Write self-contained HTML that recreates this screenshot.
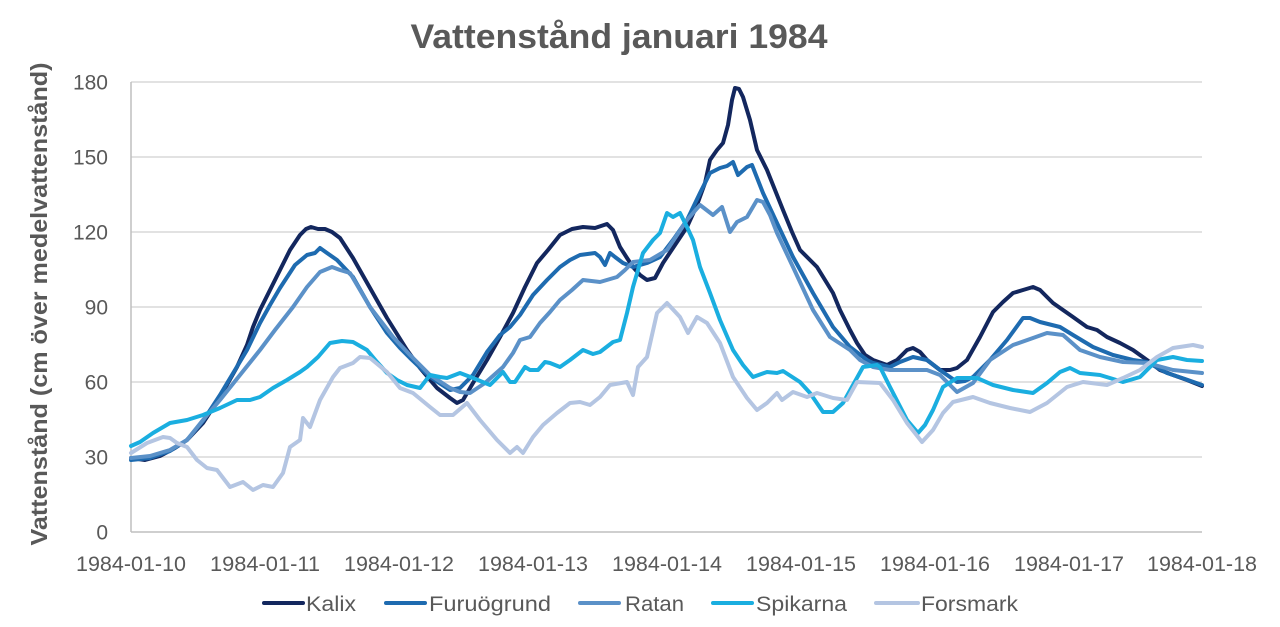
<!DOCTYPE html>
<html><head><meta charset="utf-8"><style>
html,body{margin:0;padding:0;background:#fff;}
svg{display:block;}
text{font-family:"Liberation Sans",sans-serif;fill:#595959;}
</style></head><body>
<svg width="1280" height="627" viewBox="0 0 1280 627" xmlns="http://www.w3.org/2000/svg">
<rect width="1280" height="627" fill="#fff"/>
<text x="619" y="48" font-size="34" font-weight="bold" text-anchor="middle" textLength="417" lengthAdjust="spacingAndGlyphs">Vattenstånd januari 1984</text>
<g stroke="#d9d9d9" stroke-width="1.5">
<line x1="131" y1="82" x2="1202" y2="82"/>
<line x1="131" y1="157" x2="1202" y2="157"/>
<line x1="131" y1="232" x2="1202" y2="232"/>
<line x1="131" y1="307" x2="1202" y2="307"/>
<line x1="131" y1="382" x2="1202" y2="382"/>
<line x1="131" y1="457" x2="1202" y2="457"/>
</g>
<line x1="131" y1="532" x2="1202" y2="532" stroke="#bfbfbf" stroke-width="1.5"/>
<line x1="131" y1="82" x2="131" y2="532" stroke="#bfbfbf" stroke-width="1.5"/>
<g font-size="21" text-anchor="end">
<text x="108" y="89.5">180</text>
<text x="108" y="164.5">150</text>
<text x="108" y="239.5">120</text>
<text x="108" y="314.5">90</text>
<text x="108" y="389.5">60</text>
<text x="108" y="464.5">30</text>
<text x="108" y="539.5">0</text>
</g>
<g font-size="21" text-anchor="middle">
<text x="131" y="571" textLength="110" lengthAdjust="spacingAndGlyphs">1984-01-10</text>
<text x="265" y="571" textLength="110" lengthAdjust="spacingAndGlyphs">1984-01-11</text>
<text x="399" y="571" textLength="110" lengthAdjust="spacingAndGlyphs">1984-01-12</text>
<text x="533" y="571" textLength="110" lengthAdjust="spacingAndGlyphs">1984-01-13</text>
<text x="667" y="571" textLength="110" lengthAdjust="spacingAndGlyphs">1984-01-14</text>
<text x="801" y="571" textLength="110" lengthAdjust="spacingAndGlyphs">1984-01-15</text>
<text x="935" y="571" textLength="110" lengthAdjust="spacingAndGlyphs">1984-01-16</text>
<text x="1069" y="571" textLength="110" lengthAdjust="spacingAndGlyphs">1984-01-17</text>
<text x="1202" y="571" textLength="110" lengthAdjust="spacingAndGlyphs">1984-01-18</text>
</g>
<text transform="translate(47,304) rotate(-90)" font-size="23" font-weight="bold" text-anchor="middle" textLength="483" lengthAdjust="spacingAndGlyphs">Vattenstånd (cm över medelvattenstånd)</text>
<g fill="none" stroke-width="4" stroke-linejoin="round" stroke-linecap="round">
<polyline stroke="#13275e" points="131,458 145,460 160,456 175,448 187,440 203,423 220,397 237,367 247,345 253,327 260,310 270,290 280,270 290,250 300,235 306,229 311,227 318,229 325,229 332,232 340,238 353,258 370,288 387,318 407,350 420,368 437,388 450,398 457,403 463,400 473,383 487,360 500,337 513,313 525,287 537,263 548,250 560,235 572,229 583,227 595,228 607,224 613,230 620,247 627,258 633,267 640,275 647,280 655,278 663,263 675,245 687,227 697,205 705,183 710,160 717,150 723,143 728,125 732,100 735,88 739,89 743,97 750,120 757,150 767,170 775,190 783,210 792,232 800,250 810,260 817,267 825,280 833,293 840,310 850,330 857,343 865,355 873,360 887,365 897,360 907,350 913,348 920,352 927,360 940,370 950,370 957,368 967,360 980,337 993,312 1003,302 1013,293 1023,290 1033,287 1040,290 1053,303 1063,310 1073,317 1087,327 1097,330 1107,337 1120,343 1133,350 1147,360 1160,370 1173,375 1187,380 1202,386"/>
<polyline stroke="#1e6bb0" points="131,460 150,458 170,451 187,440 203,421 220,395 235,370 247,350 260,323 270,305 280,288 295,265 307,255 315,253 320,248 327,253 337,260 353,277 370,307 387,333 400,348 410,358 430,377 450,390 460,388 473,375 487,352 500,335 510,327 520,315 533,295 547,280 560,267 570,260 580,255 595,253 600,257 605,265 610,253 615,257 623,263 633,267 647,263 660,257 673,240 687,220 700,193 710,173 720,168 727,166 733,162 738,175 747,167 752,165 763,193 777,223 793,257 813,293 833,327 850,347 867,360 873,363 890,367 900,362 913,357 927,360 940,370 957,382 965,381 973,377 990,360 1007,340 1023,318 1030,318 1040,322 1060,327 1073,335 1093,347 1113,355 1133,360 1147,362 1167,373 1185,379 1202,385"/>
<polyline stroke="#5b91c8" points="131,458 150,456 170,450 187,440 203,420 220,400 240,375 260,350 275,330 293,307 307,287 320,272 332,267 340,270 350,273 360,290 370,307 393,337 410,355 430,375 450,388 460,392 470,393 485,383 503,367 513,353 520,340 530,337 540,323 550,312 560,300 572,290 583,280 600,282 617,277 625,270 633,262 650,260 667,250 677,235 687,220 700,205 713,215 722,207 730,232 737,222 747,217 757,200 763,202 770,215 777,233 793,267 813,310 830,337 850,350 860,360 873,367 890,370 907,370 927,370 940,375 957,392 973,383 990,360 1013,345 1033,338 1047,333 1063,335 1080,350 1100,357 1123,362 1147,363 1173,370 1202,373"/>
<polyline stroke="#1aaee0" points="131,446 140,442 153,433 170,423 187,420 203,415 220,408 237,400 250,400 260,397 273,388 287,380 300,372 307,367 318,357 330,343 342,341 353,342 367,350 377,362 387,373 397,380 407,385 420,388 430,375 440,377 447,378 460,373 473,378 490,385 503,372 510,382 515,382 525,367 530,370 538,370 545,362 550,363 560,367 570,360 583,350 593,354 600,352 613,342 620,340 627,313 633,287 643,253 653,240 660,233 667,213 673,217 680,213 687,227 693,240 700,267 710,293 720,320 733,350 743,365 753,377 767,372 777,373 783,371 800,382 810,393 823,412 833,412 843,403 853,385 863,367 877,365 880,367 890,387 907,420 918,433 925,425 933,410 943,387 957,378 977,378 993,385 1013,390 1033,393 1047,383 1060,372 1070,368 1080,373 1100,375 1123,382 1140,377 1157,360 1173,357 1187,360 1202,361"/>
<polyline stroke="#b4c5e2" points="131,453 147,443 163,437 170,438 177,443 187,447 197,460 207,468 217,470 230,487 243,482 253,490 263,485 273,487 283,473 290,447 300,440 303,418 310,427 320,400 333,377 340,368 353,363 360,357 370,358 387,372 400,388 413,393 430,407 440,415 453,415 467,403 480,420 497,440 510,453 517,447 523,453 533,437 543,425 557,413 570,403 580,402 590,405 600,397 610,385 627,382 633,395 638,367 647,357 652,335 657,313 667,303 680,317 688,333 697,317 707,323 720,343 733,377 747,398 757,410 767,403 777,393 782,400 793,392 807,397 817,393 833,398 847,400 857,382 880,383 893,400 907,423 922,442 933,430 943,413 953,402 973,397 990,403 1010,408 1030,412 1047,403 1067,387 1083,382 1107,385 1123,378 1140,370 1157,357 1173,348 1193,345 1202,347"/>
</g>
<g stroke-width="4" stroke-linecap="round">
<line x1="264" y1="603" x2="303" y2="603" stroke="#13275e"/>
<line x1="386" y1="603" x2="425" y2="603" stroke="#1e6bb0"/>
<line x1="580" y1="603" x2="619" y2="603" stroke="#5b91c8"/>
<line x1="713" y1="603" x2="752" y2="603" stroke="#1aaee0"/>
<line x1="876" y1="603" x2="918" y2="603" stroke="#b4c5e2"/>
</g>
<g font-size="21">
<text x="306" y="611" textLength="50" lengthAdjust="spacingAndGlyphs">Kalix</text>
<text x="429" y="611" textLength="122" lengthAdjust="spacingAndGlyphs">Furuögrund</text>
<text x="625" y="611" textLength="59" lengthAdjust="spacingAndGlyphs">Ratan</text>
<text x="756" y="611" textLength="91" lengthAdjust="spacingAndGlyphs">Spikarna</text>
<text x="921" y="611" textLength="97" lengthAdjust="spacingAndGlyphs">Forsmark</text>
</g>
</svg>
</body></html>
